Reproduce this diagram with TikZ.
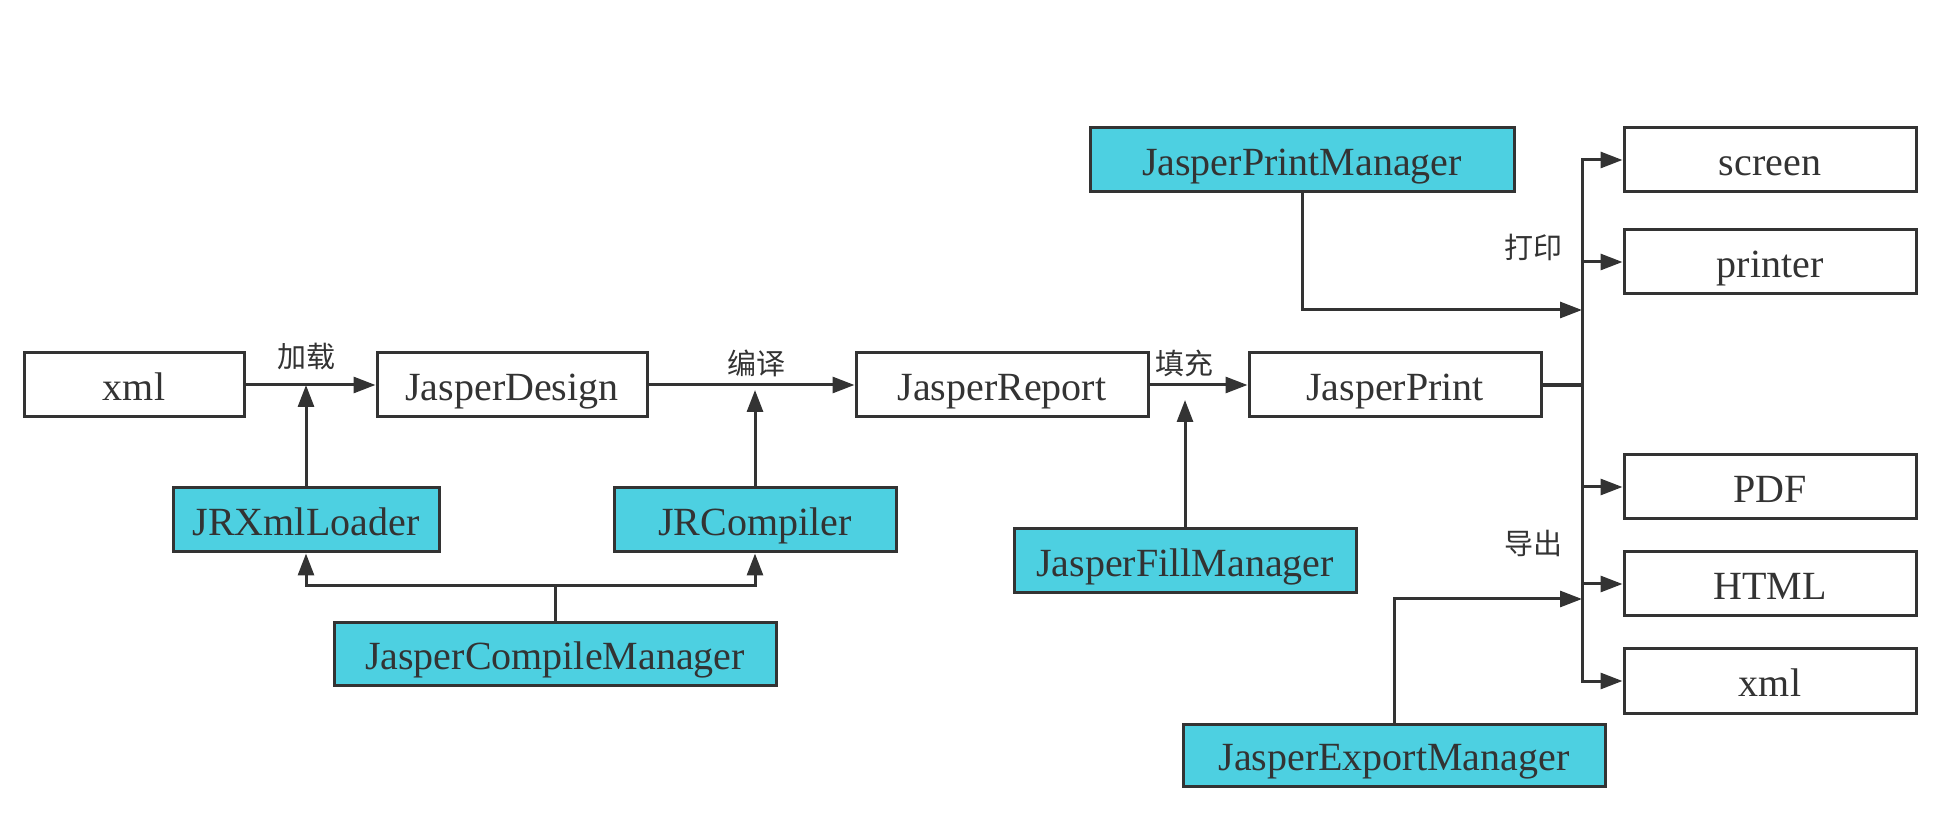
\documentclass[tikz,border=0pt]{standalone}
\usepackage{fontspec}
\setmainfont{Liberation Serif}
\newfontfamily\cjk{Noto Sans CJK SC}
\usetikzlibrary{arrows.meta}
\definecolor{mgrcyan}{HTML}{4DD0E1}
\definecolor{mgrline}{HTML}{333333}

\begin{document}
\begin{tikzpicture}[
        x=0.5pt, y=-0.5pt,
        every node/.style={draw=mgrline, line width=1.5pt, minimum height=32pt, inner sep=0pt, text height=15.5pt, text depth=0pt, text=mgrline, font=\fontsize{20}{24}\selectfont},
        plain/.style={fill=white},
        mgr/.style={fill=mgrcyan},
        lbl/.style={draw=none, minimum height=0pt, text height=, text depth=, font=\cjk\fontsize{14.5}{17}\selectfont},
        wire/.style={draw=mgrline, line width=1.5pt},
        link/.style={wire, -{Triangle[length=11pt,width=8pt]}},
    ]
    \useasboundingbox (0,0) rectangle (1956,828);

    % main chain
    \node[plain, minimum width=110pt](xml) at (134,385){xml};
    \node[plain, minimum width=135pt](design) at (512,385){JasperDesign};
    \node[plain, minimum width=146pt](report) at (1002,385){JasperReport};
    \node[plain, minimum width=146pt](print) at (1395,385){JasperPrint};

    % managers
    \node[mgr, minimum width=133pt](loader) at (306,520){JRXmlLoader};
    \node[mgr, minimum width=141pt](compiler) at (755,520){JRCompiler};
    \node[mgr, minimum width=221pt, minimum height=31pt](compilemgr) at (555,654){JasperCompileManager};
    \node[mgr, minimum width=171pt](fillmgr) at (1185,561){JasperFillManager};
    \node[mgr, minimum width=212pt](printmgr) at (1302,160){JasperPrintManager};
    \node[mgr, minimum width=211pt, minimum height=31pt](exportmgr) at (1394,755){JasperExportManager};

    % outputs
    \foreach \name/\y/\txt in {screen/160/screen, printer/262/printer, pdf/487/PDF, html/584/HTML, xmlout/681/xml}
        \node[plain, minimum width=146pt](\name) at (1770,\y){\txt};

    % labels
    \node[lbl](lload) at (306,356){加载};
    \node[lbl](lcomp) at (756,363){编译};
    \node[lbl](lfill) at (1184,363){填充};
    \node[lbl](lprint) at (1533,247){打印};
    \node[lbl](lexport) at (1533,543){导出};

    \coordinate(split) at (555,586);
    \coordinate(ctip) at (755,390);
    \coordinate(ftip) at (1185,400);
    \coordinate(bustop) at (1582,160);
    \coordinate(busbot) at (1582,681);
    \coordinate(pin) at (1582,310);
    \coordinate(ein) at (1582,599);

    \draw[link] (xml) -- (design);
    \draw[link] (design) -- (report);
    \draw[link] (report) -- (print);

    \draw[link] (loader.north) -- (loader.north |- xml.east);
    \draw[link] (compiler.north) -- (ctip);
    \draw[link] (fillmgr.north) -- (ftip);

    \draw[wire] (compilemgr.north) -- (split);
    \draw[link] (split) -| (loader.south);
    \draw[link] (split) -| (compiler.south);

    % bus
    \draw[wire, line cap=rect] (bustop) -- (busbot);
    \draw[wire, line width=2pt] (print.east) -- (print.east -| bustop);
    \foreach \name in {screen, printer, pdf, html, xmlout}
        \draw[link] (bustop |- \name.west) -- (\name.west);
    \draw[link] (printmgr.south) |- (pin);
    \draw[link] (exportmgr.north) |- (ein);
\end{tikzpicture}
\end{document}
